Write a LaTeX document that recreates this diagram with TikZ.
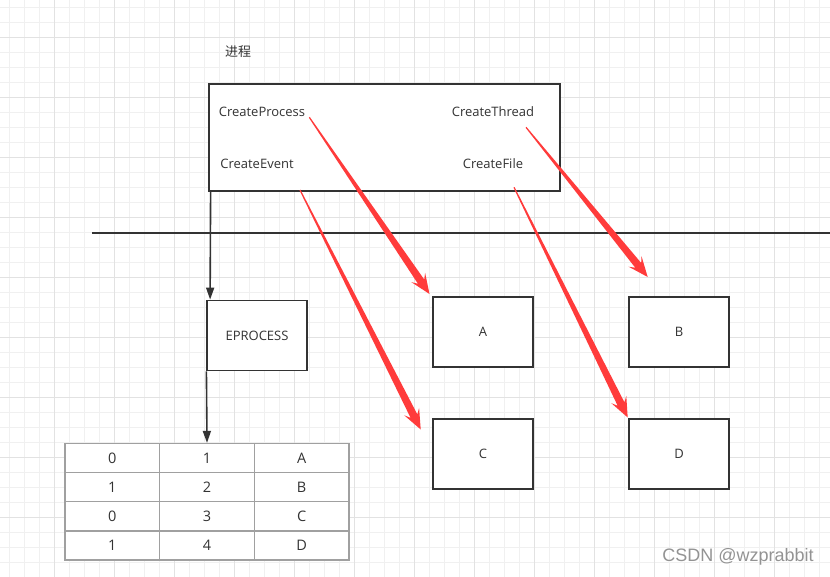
\documentclass[tikz,border=0pt]{standalone}
\usepackage{fontspec}
\setmainfont{Open Sans}
\newfontfamily\cjkfont{Noto Sans CJK SC}
\newfontfamily\wmfont{Liberation Sans}
\usetikzlibrary{calc,arrows.meta}
\definecolor{ink}{HTML}{333333}
\definecolor{arrowred}{HTML}{FF3B3B}
\definecolor{gridminor}{HTML}{F0F0F0}
\definecolor{gridmajor}{HTML}{E2E2E2}
\definecolor{tablegray}{HTML}{A0A0A0}
\newcommand\redarrow[2]{%
  \fill[arrowred] ($(#1)!0.6pt!90:(#2)$)
   -- ($($(#2)!15pt!(#1)$)!3.8pt!90:(#2)$)
   -- ($($(#2)!20pt!(#1)$)!8.3pt!90:(#2)$)
   -- (#2)
   -- ($($(#2)!20pt!(#1)$)!8.3pt!-90:(#2)$)
   -- ($($(#2)!15pt!(#1)$)!3.8pt!-90:(#2)$)
   -- ($(#1)!0.6pt!-90:(#2)$) -- cycle;}
\begin{document}
\begin{tikzpicture}[x=1pt,y=-1pt,
  boxnode/.style={draw=ink,line width=1.8pt,fill=white,inner sep=0pt,minimum width=100pt,minimum height=70pt,text=ink,font=\fontsize{13}{15}\selectfont},
  lbl/.style={text=ink,inner sep=0pt,font=\fontsize{13}{15}\selectfont},
  cell/.style={draw=tablegray,line width=1.3pt,fill=white,inner sep=0pt,minimum width=94.67pt,minimum height=29.1pt,text=ink,font=\fontsize{14.5}{16}\selectfont},
  blackarrow/.style={draw=ink,line width=1.6pt,-{Triangle[length=12pt,width=8pt]}}]
\useasboundingbox (0,0) rectangle (830,577);
\fill[white] (0,0) rectangle (830,577);
% grid
\foreach \x in {9.3,24.3,...,830} \draw[gridminor,line width=0.8pt] (\x,0) -- (\x,577);
\foreach \y in {7.3,22.3,...,577} \draw[gridminor,line width=0.8pt] (0,\y) -- (830,\y);
\foreach \x in {54.3,114.3,...,830} \draw[gridmajor,line width=0.9pt] (\x,0) -- (\x,577);
\foreach \y in {37.3,97.3,...,577} \draw[gridmajor,line width=0.9pt] (0,\y) -- (830,\y);

\node[lbl,font=\cjkfont\fontsize{13}{15}\selectfont] (title) at (238,52) {进程};
\node[draw=ink,line width=1.8pt,fill=white,inner sep=0pt,minimum width=351pt,minimum height=107pt] (proc) at (384.5,137.5) {};
\node[lbl] (cp) at (262,111.5) {CreateProcess};
\node[lbl] (ct) at (493,111.5) {CreateThread};
\node[lbl] (ce) at (257,164) {CreateEvent};
\node[lbl] (cf) at (493,164) {CreateFile};

\coordinate (lineL) at (92,233);
\coordinate (lineR) at (830,233);
\draw[ink,line width=1.8pt] (lineL) -- (lineR);

\node[boxnode] (ep) at (257,335.5) {EPROCESS};
\node[boxnode] (A) at (483,332) {A};
\node[boxnode] (B) at (679,332) {B};
\node[boxnode] (C) at (483,454) {C};
\node[boxnode] (D) at (679,454) {D};

% table
\foreach \r/\a/\b/\c in {0/1/0/A,1/2/1/B,2/3/0/C,3/4/1/D}{
  \node[cell] (t\r1) at (112.33,458.1+29.1*\r) {\b};
  \node[cell] (t\r2) at (207,458.1+29.1*\r) {\a};
  \node[cell] (t\r3) at (301.67,458.1+29.1*\r) {\c};
}

\draw[blackarrow] ([xshift=2.5pt]proc.south west) -- ([xshift=4pt]ep.north west);
\draw[blackarrow] ([xshift=0.3pt]ep.south west) -- (t02.north);

% red arrows
\coordinate (s1) at (309.3,117.3); \coordinate (e1) at (429.5,294);
\coordinate (s2) at (300,190);     \coordinate (e2) at (420.7,429.5);
\coordinate (s3) at (526,127.3);   \coordinate (e3) at (647.7,277);
\coordinate (s4) at (514,187.3);   \coordinate (e4) at (627.7,417.5);
\redarrow{s1}{e1}
\redarrow{s2}{e2}
\redarrow{s3}{e3}
\redarrow{s4}{e4}

\node[inner sep=0pt,text=white,font=\wmfont\fontsize{18}{20}\selectfont] at (738.6,557.6) {CSDN @wzprabbit};
\node[inner sep=0pt,text=gray!85,font=\wmfont\fontsize{18}{20}\selectfont] (wm) at (738,557) {CSDN @wzprabbit};
\end{tikzpicture}
\end{document}
